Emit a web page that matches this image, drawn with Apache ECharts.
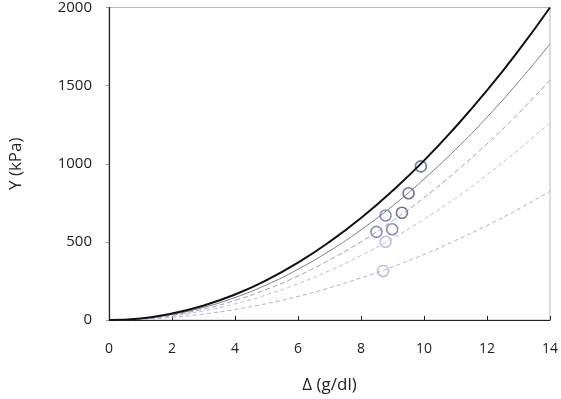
<!DOCTYPE html>
<html>
<head>
<meta charset="utf-8">
<script src="https://cdn.jsdelivr.net/npm/echarts@6/dist/echarts.min.js"></script>
<style>
  html, body { margin: 0; padding: 0; background: #fff; }
  #chart { width: 561px; height: 399px; }
</style>
</head>
<body>
<div id="chart"></div>
<script>
const FONT_FAMILY = "'Open Sans', 'Liberation Sans', sans-serif"

// curve sample points
const deltaGrid = [0, 1, 2, 3, 4, 5, 6, 7, 8, 9, 10, 11, 12, 13, 14]
const curveBlack = [0, 10, 41, 92, 163, 255, 367, 500, 653, 827, 1020, 1235, 1469, 1724, 2000]
const curveGray = [0, 9, 36, 81, 144, 225, 325, 442, 577, 730, 902, 1091, 1298, 1524, 1767]
const curveDash1 = [0, 8, 31, 70, 125, 196, 282, 384, 501, 634, 783, 948, 1128, 1323, 1535]
const curveDash2 = [0, 6, 26, 58, 103, 161, 232, 316, 413, 522, 645, 780, 929, 1090, 1264]
const curveDash3 = [0, 4, 17, 38, 67, 105, 151, 206, 269, 340, 420, 509, 605, 710, 824]

// measured points
const darkX = [9.9, 9.51, 9.3]
const darkY = [983, 811, 686]
const midX = [8.78, 8.49, 8.99]
const midY = [669, 564, 581]
const lightX = [8.78, 8.7]
const lightY = [501, 314]

const xTicks = [0, 2, 4, 6, 8, 10, 12, 14]
const yTicks = [0, 500, 1000, 1500, 2000]

const pairs = (xs, ys) => xs.map((x, i) => [x, ys[i]])

function curve(ys, color, width, type) {
  return {
    type: 'line',
    data: pairs(deltaGrid, ys),
    smooth: true,
    symbol: 'none',
    silent: true,
    lineStyle: { color, width, type },
  }
}

function dots(xs, ys, color) {
  return {
    type: 'scatter',
    data: pairs(xs, ys),
    symbol: 'circle',
    symbolSize: 11,
    itemStyle: { color: 'rgba(255,255,255,0)', borderColor: color, borderWidth: 1.6 },
  }
}

const chart = echarts.init(document.getElementById('chart'))
chart.setOption({
  animation: false,
  grid: {
    left: 103, right: 10, top: 6, bottom: 75,
    show: true, borderColor: '#b8b8b8', borderWidth: 1,
  },
  xAxis: {
    type: 'value',
    min: xTicks[0], max: xTicks[xTicks.length - 1], interval: 2,
    name: 'Δ (g/dl)',
    nameLocation: 'middle',
    nameGap: 57,
    nameTextStyle: { fontFamily: FONT_FAMILY, fontSize: 17, color: '#222' },
    axisLine: { lineStyle: { color: '#222', width: 1.2 } },
    axisTick: { inside: true, length: 4, lineStyle: { color: '#222' } },
    axisLabel: { fontFamily: FONT_FAMILY, fontSize: 14, color: '#222', margin: 22 },
    splitLine: { show: false },
  },
  yAxis: {
    type: 'value',
    min: yTicks[0], max: yTicks[yTicks.length - 1], interval: 500,
    name: 'Y (kPa)',
    nameLocation: 'middle',
    nameGap: 84,
    nameTextStyle: { fontFamily: FONT_FAMILY, fontSize: 17, color: '#222' },
    axisLine: { lineStyle: { color: '#222', width: 1.2 } },
    axisTick: { length: 3, lineStyle: { color: '#999' } },
    axisLabel: {
      fontFamily: FONT_FAMILY, fontSize: 15, color: '#222', margin: 17,
      formatter: v => String(v),
    },
    splitLine: { show: false },
  },
  series: [
    curve(curveDash3, '#aab0dc', 1, [4, 3]),
    curve(curveDash2, '#b8bee4', 1, [4, 3]),
    curve(curveDash1, '#949bcc', 1, [5, 3]),
    curve(curveGray, '#7c7c88', 1, 'solid'),
    curve(curveBlack, '#111', 2, 'solid'),
    dots(lightX, lightY, '#aab0dc'),
    dots(midX, midY, '#6b72b4'),
    dots(darkX, darkY, '#4d5286'),
  ],
})
</script>
</body>
</html>
